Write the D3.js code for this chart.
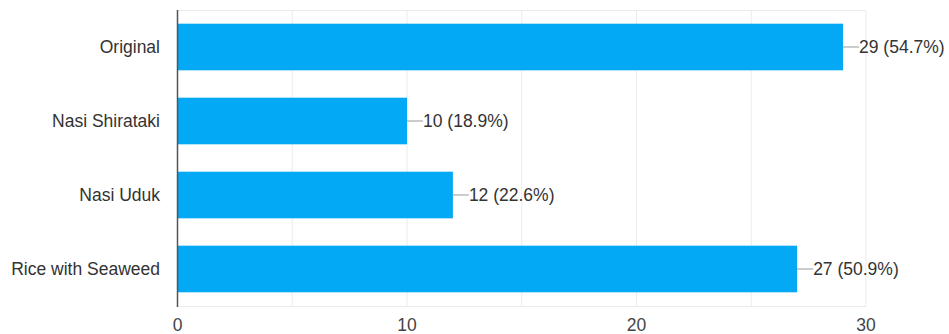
<!DOCTYPE html>
<html>
<head>
<meta charset="utf-8">
<script src="https://cdn.jsdelivr.net/npm/d3@7"></script>
<style>
  html, body { margin: 0; padding: 0; background: #fff; }
  svg { display: block; font-family: Arial, "Liberation Sans", sans-serif; }
</style>
</head>
<body>
<svg id="chart" width="949" height="334"></svg>
<script>
const categories = ["Original", "Nasi Shirataki", "Nasi Uduk", "Rice with Seaweed"];
const counts = [29, 10, 12, 27];
const percents = ["54.7%", "18.9%", "22.6%", "50.9%"];
const tickValues = [0, 10, 20, 30];
const gridValues = [5, 10, 15, 20, 25, 30];

(function draw() {
  const svg = d3.select("#chart");
  const plotLeft = 177.5, plotRight = 866, plotTop = 10, plotBottom = 306;
  const fontSize = 17.5;

  const x = d3.scaleLinear().domain([0, 30]).range([plotLeft, plotRight]);
  const y = d3.scaleBand().domain(categories).range([plotTop, plotBottom])
    .paddingInner(0.37).paddingOuter(0.185);

  // vertical gridlines
  svg.append("g").selectAll("line").data(gridValues).join("line")
    .attr("x1", d => x(d)).attr("x2", d => x(d))
    .attr("y1", plotTop).attr("y2", plotBottom)
    .attr("stroke", "#ebebeb").attr("stroke-width", 1);

  // top and bottom frame lines
  svg.append("line").attr("x1", plotLeft).attr("x2", plotRight)
    .attr("y1", plotTop + 0.5).attr("y2", plotTop + 0.5).attr("stroke", "#ebebeb");
  svg.append("line").attr("x1", plotLeft).attr("x2", plotRight)
    .attr("y1", plotBottom + 0.5).attr("y2", plotBottom + 0.5).attr("stroke", "#ebebeb");

  // bars
  svg.append("g").selectAll("rect").data(counts).join("rect")
    .attr("x", x(0))
    .attr("y", (d, i) => y(categories[i]))
    .attr("width", d => x(d) - x(0))
    .attr("height", y.bandwidth())
    .attr("fill", "#03a9f4");

  // value labels with leader lines
  const lbl = svg.append("g");
  counts.forEach((d, i) => {
    const cy = y(categories[i]) + y.bandwidth() / 2;
    lbl.append("line")
      .attr("x1", x(d)).attr("x2", x(d) + 16)
      .attr("y1", cy).attr("y2", cy)
      .attr("stroke", "#999").attr("stroke-width", 1);
    lbl.append("text")
      .attr("x", x(d) + 16).attr("y", cy)
      .attr("dy", "0.35em")
      .attr("font-size", fontSize).attr("fill", "#333")
      .text(`${d} (${percents[i]})`);
  });

  // category labels
  svg.append("g").selectAll("text").data(categories).join("text")
    .attr("x", 160)
    .attr("y", d => y(d) + y.bandwidth() / 2)
    .attr("dy", "0.35em")
    .attr("text-anchor", "end")
    .attr("font-size", fontSize).attr("fill", "#333")
    .text(d => d);

  // x tick labels
  svg.append("g").selectAll("text").data(tickValues).join("text")
    .attr("x", d => x(d))
    .attr("y", 325)
    .attr("dy", "0.35em")
    .attr("text-anchor", "middle")
    .attr("font-size", fontSize).attr("fill", "#444")
    .text(d => d);

  // baseline axis
  svg.append("line").attr("x1", plotLeft).attr("x2", plotLeft)
    .attr("y1", plotTop).attr("y2", plotBottom + 1)
    .attr("stroke", "#555").attr("stroke-width", 1.5);
})();
</script>
</body>
</html>
